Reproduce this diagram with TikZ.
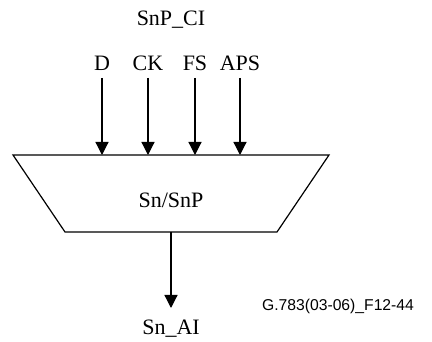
\documentclass[tikz,border=0pt]{standalone}
\usepackage{fontspec}
\setmainfont{Liberation Serif}
\newfontfamily\labelsans{Liberation Sans}
\usetikzlibrary{arrows.meta}
\begin{document}
\begin{tikzpicture}[x=1pt,y=-1pt,
  lbl/.style={inner sep=0pt,font=\fontsize{22}{26}\selectfont},
  sig/.style={line width=1.2pt,-{Triangle[length=13pt,width=13pt]}},
  box/.style={line width=1.2pt}]
\useasboundingbox (0,0) rectangle (432,342);
% trapezoid
\coordinate (tl) at (13,155);
\coordinate (tr) at (329,155);
\coordinate (br) at (277,232);
\coordinate (bl) at (65,232);
\draw[box] (tl) -- (tr) -- (br) -- (bl) -- cycle;
\node[lbl] (fn) at (171,200) {Sn/SnP};
% top labels
\node[lbl] (ci) at (171,20) {SnP\_CI};
\node[lbl] (d) at (102,63) {D};
\node[lbl] (ck) at (148,63) {CK};
\node[lbl] (fs) at (195,63) {FS};
\node[lbl] (aps) at (240,63) {APS};
% arrow ends on top edge
\coordinate (de) at (102,155);
\coordinate (cke) at (148,155);
\coordinate (fse) at (195,155);
\coordinate (apse) at (240,155);
\draw[sig] (d.south |- 0,78) -- (de);
\draw[sig] (ck.south |- 0,78) -- (cke);
\draw[sig] (fs.south |- 0,78) -- (fse);
\draw[sig] (aps.south |- 0,78) -- (apse);
% output
\coordinate (ob) at (171,232);
\coordinate (oe) at (171,308);
\node[lbl] (ai) at (171,329) {Sn\_AI};
\draw[sig] (ob) -- (oe);
\node[inner sep=0pt,font=\labelsans\fontsize{15.7}{18}\selectfont] (ref) at (338,306) {G.783(03-06)\_F12-44};
\end{tikzpicture}
\end{document}
